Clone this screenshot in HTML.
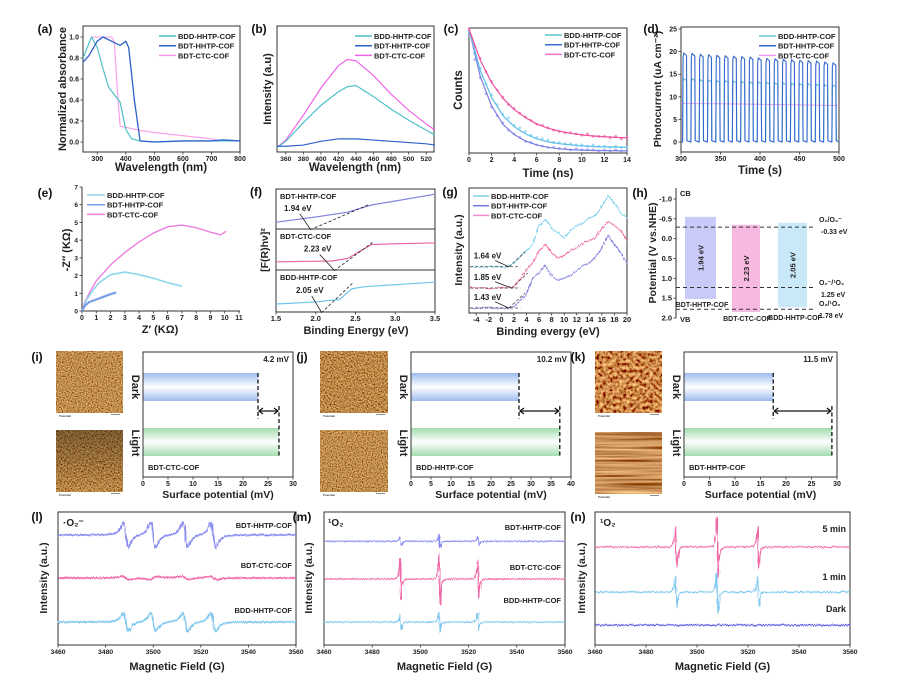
<!DOCTYPE html>
<html><head><meta charset="utf-8"><title>COF characterization figure</title>
<style>
html,body{margin:0;padding:0;background:#fff;}
svg{display:block;font-family:"Liberation Sans",Arial,sans-serif;font-weight:bold;}
</style></head>
<body>
<svg id="fig" xmlns="http://www.w3.org/2000/svg" width="911" height="684" viewBox="0 0 911 684">
<defs>
<filter id="noise" filterUnits="userSpaceOnUse" x="0" y="0" width="911" height="684">
<feTurbulence type="fractalNoise" baseFrequency="0.9 0.05" numOctaves="2" seed="3" result="t"/>
<feDisplacementMap in="SourceGraphic" in2="t" scale="3.5" xChannelSelector="R" yChannelSelector="G"/>
</filter>
<filter id="afm1" x="0" y="0" width="100%" height="100%"><feTurbulence type="fractalNoise" baseFrequency="0.8" numOctaves="2" seed="1"/><feColorMatrix type="matrix" values="1.3 0 0 0 -0.12  0.95 0 0 0 -0.2  0.4 0 0 0 -0.12  0 0 0 0 1"/></filter>
<filter id="afm2" x="0" y="0" width="100%" height="100%"><feTurbulence type="fractalNoise" baseFrequency="0.7" numOctaves="2" seed="7"/><feColorMatrix type="matrix" values="1.3 0 0 0 -0.14  0.95 0 0 0 -0.22  0.4 0 0 0 -0.13  0 0 0 0 1"/></filter>
<filter id="afm3" x="0" y="0" width="100%" height="100%"><feTurbulence type="fractalNoise" baseFrequency="0.3" numOctaves="2" seed="5"/><feColorMatrix type="matrix" values="1.6 0 0 0 -0.2  1.2 0 0 0 -0.35  0.5 0 0 0 -0.18  0 0 0 0 1"/></filter>
<filter id="afm4" x="0" y="0" width="100%" height="100%"><feTurbulence type="fractalNoise" baseFrequency="0.01 0.45" numOctaves="2" seed="9"/><feColorMatrix type="matrix" values="1.3 0 0 0 -0.05  0.95 0 0 0 -0.18  0.45 0 0 0 -0.12  0 0 0 0 1"/></filter>
<linearGradient id="gBlue" x1="0" y1="0" x2="0" y2="1"><stop offset="0" stop-color="#9dbcf0"/><stop offset="0.5" stop-color="#ffffff"/><stop offset="1" stop-color="#9dbcf0"/></linearGradient>
<linearGradient id="gGreen" x1="0" y1="0" x2="0" y2="1"><stop offset="0" stop-color="#a3dcae"/><stop offset="0.5" stop-color="#ffffff"/><stop offset="1" stop-color="#a3dcae"/></linearGradient>
<linearGradient id="gDark" x1="0" y1="0" x2="0" y2="1"><stop offset="0" stop-color="#000" stop-opacity="0.35"/><stop offset="1" stop-color="#000" stop-opacity="0"/></linearGradient>
</defs>
</svg>
<script>
// ---------- DATA ----------
const aWl_bdd=[250,280,300,320,340,360,380,400,420,450,500,600,700,800];
const aVal_bdd=[0.8,1.0,0.9,0.7,0.52,0.45,0.38,0.12,0.03,0.01,0.0,0.01,0.01,0.01];
const aWl_bdt=[250,270,300,320,350,380,400,410,430,450,500,600,700,740,800];
const aVal_bdt=[0.76,0.82,0.96,1.0,0.96,0.92,0.96,0.9,0.4,0.01,0.0,0.01,0.01,0.02,0.01];
const aWl_ctc=[280,300,350,360,370,380,400,450,500,600,700,720];
const aVal_ctc=[1.0,1.0,1.0,0.95,0.5,0.15,0.14,0.11,0.09,0.06,0.03,0.02];
const bWl=[350,360,380,400,420,430,440,460,480,500,520,530];
const bCtc=[0.02,0.08,0.28,0.5,0.68,0.73,0.72,0.6,0.45,0.32,0.21,0.16];
const bBdd=[0.02,0.07,0.22,0.36,0.47,0.51,0.52,0.43,0.33,0.24,0.16,0.12];
const bBdt=[0.03,0.03,0.04,0.07,0.09,0.09,0.09,0.08,0.07,0.06,0.05,0.04];
const cT=[0,1,2,3,4,5,6,7,8,9,10,11,12,13,14];
const cFitCtc=[1.0,0.745,0.561,0.433,0.34,0.274,0.222,0.187,0.163,0.145,0.132,0.123,0.117,0.112,0.108];
const cFitBdd=[1.0,0.66,0.44,0.29,0.2,0.14,0.1,0.075,0.06,0.05,0.042,0.037,0.034,0.032,0.031];
const cFitBdt=[1.0,0.61,0.37,0.22,0.135,0.082,0.05,0.03,0.018,0.011,0.007,0.004,0.003,0.002,0.001];
const cTs=[0,0.5,1,1.5,2,2.5,3,3.5,4,4.5,5,5.5,6,6.5,7,7.5,8,8.5,9,9.5,10,10.5,11,11.5,12,12.5,13,13.5,14];
const cPtCtc=[1.0,0.86,0.76,0.65,0.57,0.5,0.44,0.38,0.35,0.31,0.28,0.25,0.22,0.21,0.19,0.17,0.16,0.15,0.15,0.14,0.13,0.14,0.12,0.12,0.12,0.11,0.12,0.1,0.11];
const cPtBdd=[0.98,0.8,0.68,0.55,0.46,0.38,0.3,0.27,0.21,0.19,0.16,0.13,0.11,0.1,0.09,0.07,0.07,0.06,0.06,0.05,0.05,0.04,0.05,0.04,0.04,0.03,0.04,0.03,0.03];
const cPtBdt=[0.95,0.75,0.6,0.47,0.36,0.29,0.23,0.17,0.14,0.11,0.08,0.07,0.05,0.04,0.03,0.03,0.02,0.02,0.01,0.02,0.01,0.01,0.01,0.0,0.01,0.0,0.01,0.0,0.0];
const dStart=[302,312.5,323,333.5,344,354.5,365,375.5,386,396.5,407,417.5,428,438.5,449,459.5,470,480.5,491];
const dBdt=[19.7,19.6,19.4,19.3,19.2,19.1,19.0,18.9,18.8,18.6,18.5,18.4,18.3,18.2,18.1,18.0,17.9,17.7,17.5];
const dBdd=[14.0,14.0,13.8,13.7,13.6,13.6,13.5,13.4,13.3,13.3,13.2,13.1,13.1,13.0,12.9,12.9,12.8,12.7,12.6];
const dCtcT=[300,350,400,450,500];
const dCtcV=[8.5,8.45,8.35,8.2,8.1];
const eCtcX=[0,0.2,0.5,1,2,3,4,5,6,7,8,9,9.7,10.1];
const eCtcY=[0,0.5,1.0,1.7,2.6,3.3,3.9,4.4,4.75,4.85,4.7,4.45,4.3,4.5];
const eBddX=[0,0.3,0.7,1.2,2,3,4,5,6,7];
const eBddY=[0,0.6,1.1,1.6,2.05,2.2,2.05,1.85,1.6,1.4];
const eBdtX=[0,0.2,0.5,1,1.5,2,2.4];
const eBdtY=[0,0.3,0.5,0.65,0.8,0.95,1.05];
const fX_bdt=[1.5,2.0,2.4,2.7,3.0,3.5];
const fY_bdt=[0.17,0.3,0.42,0.6,0.7,0.87];
const fX_ctc=[1.5,2.2,2.4,2.55,2.7,3.0,3.5];
const fY_ctc=[0.2,0.22,0.28,0.45,0.62,0.64,0.66];
const fX_bdd=[1.5,2.0,2.3,2.45,2.6,3.0,3.5];
const fY_bdd=[0.19,0.24,0.3,0.55,0.6,0.65,0.71];
const fGaps=["1.94 eV","2.23 eV","2.05 eV"];
const gX=[-5,1,2,3,4,5,6,7,8,9,10,11,12,13,14,15,16,17,18,19,20];
const gBdd=[0.37,0.37,0.4,0.45,0.5,0.55,0.7,0.75,0.68,0.64,0.6,0.66,0.7,0.72,0.76,0.78,0.85,0.94,0.88,0.8,0.76];
const gCtc=[0.2,0.2,0.21,0.27,0.35,0.4,0.5,0.55,0.48,0.44,0.46,0.5,0.52,0.56,0.58,0.6,0.68,0.73,0.7,0.66,0.58];
const gBdt=[0.04,0.04,0.05,0.1,0.15,0.28,0.32,0.38,0.3,0.26,0.28,0.3,0.34,0.38,0.4,0.45,0.52,0.62,0.55,0.48,0.4];
const gGaps=["1.64 eV","1.85 eV","1.43 eV"];
const hNames=["BDT-HHTP-COF","BDT-CTC-COF","BDD-HHTP-COF"];
const hCB=[-0.55,-0.35,-0.4];
const hVB=[1.52,1.85,1.73];
const hGapLabels=["1.94 eV","2.23 eV","2.05 eV"];
const hRefs=[-0.29,1.23,1.78];
const spDark=[23.0,27.0,17.5];
const spLight=[27.2,37.2,29.0];
const spMax=[30,40,30];
const spDelta=["4.2 mV","10.2 mV","11.5 mV"];
const spNames=["BDT-CTC-COF","BDD-HHTP-COF","BDT-HHTP-COF"];
const lCenters=[3488.5,3500,3513.5,3525.3];
const lBase=[8.27,5.04,1.73];
const lAmp=[0.95,0.12,0.7];
const mCenters=[3491.8,3508,3524];
const mBase=[7.8,4.96,1.73];
const mAmp=[[0.35,0.5,0.35],[1.6,2.0,1.5],[0.6,0.8,0.7]];
const nBase=[7.37,3.98,1.5];
const nAmp=[[1.6,2.4,1.7],[1.2,1.6,1.2],[0,0,0]];

// ---------- HELPERS ----------
const NS='http://www.w3.org/2000/svg';
const svg=document.getElementById('fig');
function add(tag,attrs,parent){const e=document.createElementNS(NS,tag);for(const k in attrs)e.setAttribute(k,attrs[k]);(parent||svg).appendChild(e);return e;}
function nm(e,name){


return e;}
function sc(d0,d1,r0,r1){return v=>r0+(v-d0)/(d1-d0)*(r1-r0);}
function txt(x,y,s,o,name){o=o||{};const t=add('text',{x:x,y:y,'font-size':o.fs||7.5,'text-anchor':o.anchor||'middle',fill:o.fill||'#222','font-weight':'bold'},o.parent);
if(o.rot!==undefined)t.setAttribute('transform','rotate('+o.rot+' '+x+' '+y+')');
t.textContent=s;nm(t,name||'label');return t;}
function pth(xs,ys,sx,sy){let d='';for(let i=0;i<xs.length;i++)d+=(i?'L':'M')+sx(xs[i]).toFixed(2)+' '+sy(ys[i]).toFixed(2);return d;}
function line(xs,ys,sx,sy,col,w,name,parent){const p=add('path',{d:pth(xs,ys,sx,sy),fill:'none',stroke:col,'stroke-width':w||1.2,'stroke-linejoin':'round'},parent);nm(p,name);return p;}
function box(x0,y0,x1,y1,name){const r=add('rect',{x:x0,y:y0,width:x1-x0,height:y1-y0,fill:'none',stroke:'#333','stroke-width':1});nm(r,name);return r;}
function seg(x1,y1,x2,y2,col,w,dash,name){const l=add('line',{x1:x1,y1:y1,x2:x2,y2:y2,stroke:col||'#333','stroke-width':w||1});if(dash)l.setAttribute('stroke-dasharray',dash);nm(l,name||'line');return l;}
function xticks(sx,y,vals,fmt,name,fs){vals.forEach(v=>{seg(sx(v),y,sx(v),y+2.5,'#333',0.8,null,name+'-tick');txt(sx(v),y+9,fmt(v),{fs:fs||7},name+'-label');});}
function yticks(sy,x,vals,fmt,name,fs){vals.forEach(v=>{seg(x-2.5,sy(v),x,sy(v),'#333',0.8,null,name+'-tick');txt(x-4,sy(v)+2.5,fmt(v),{fs:fs||7,anchor:'end'},name+'-label');});}
function rng(a,b,s){const r=[];for(let v=a;v<=b+1e-9;v+=s)r.push(Math.round(v*1000)/1000);return r;}
function legend(x,y,items,name,lw){items.forEach((it,i)=>{seg(x,y+i*9.7,x+(lw||17),y+i*9.7,it[1],1.5,null,name+'-swatch');txt(x+(lw||17)+2,y+i*9.7+3,it[0],{fs:7.5,anchor:'start'},name+'-entry');});}
function plabel(x,y,s){txt(x,y,s,{fs:12,anchor:'middle',fill:'#111'},'panel-label');}

const BDD='BDD-HHTP-COF',BDT='BDT-HHTP-COF',CTC='BDT-CTC-COF';

// ---------- (a) ----------
{const sx=sc(250,800,83,240),sy=sc(0,1,142,37);
box(83,26,240,152,'panel-a-plot-area');
line(aWl_ctc,aVal_ctc,sx,sy,'#f79bea',1.1,'series-bdt-ctc-absorbance');
line(aWl_bdd,aVal_bdd,sx,sy,'#4dc1c6',1.2,'series-bdd-hhtp-absorbance');
line(aWl_bdt,aVal_bdt,sx,sy,'#2e62c8',1.3,'series-bdt-hhtp-absorbance');
xticks(sx,152,rng(300,800,100),v=>v,'a-x',7);
yticks(sy,83,rng(0,1,0.2),v=>v.toFixed(1),'a-y',7);
txt(161,171,'Wavelength (nm)',{fs:11.5},'a-x-axis-title');
txt(66,89,'Normalized absorbance',{fs:11,rot:-90},'a-y-axis-title');
legend(159,36,[[BDD,'#4dc1c6'],[BDT,'#2e62c8'],[CTC,'#f79bea']],'a-legend');
plabel(45,33,'(a)');}

// ---------- (b) ----------
{const sx=sc(350,530,277,435),sy=sc(0,1,150,26);
box(277,26,434,152,'panel-b-plot-area');
line(bWl,bCtc,sx,sy,'#f064e8',1.2,'series-bdt-ctc-pl');
line(bWl,bBdd,sx,sy,'#4dc1c6',1.2,'series-bdd-hhtp-pl');
line(bWl,bBdt,sx,sy,'#2e62c8',1.2,'series-bdt-hhtp-pl');
xticks(sx,152,rng(360,520,20),v=>v,'b-x',6.8);
txt(355,171,'Wavelength (nm)',{fs:11.5},'b-x-axis-title');
txt(271,89,'Intensity (a.u)',{fs:11,rot:-90},'b-y-axis-title');
legend(355,36,[[BDD,'#4dc1c6'],[BDT,'#2e62c8'],[CTC,'#f064e8']],'b-legend');
plabel(259,33,'(b)');}

// ---------- (c) ----------
{const sx=sc(0,14,469,627),sy=sc(0,1,151,29);
box(469,28,627,153,'panel-c-plot-area');
const pts=[[cPtBdt,'#a9a9f0','bdt-hhtp'],[cPtBdd,'#8fd3f2','bdd-hhtp'],[cPtCtc,'#f27ab8','bdt-ctc']];
pts.forEach(p=>{p[0].forEach((v,i)=>{const c=add('circle',{cx:sx(cTs[i]),cy:sy(v),r:1.4,fill:p[1],opacity:0.85});

});});
line(cT,cFitBdt,sx,sy,'#7b7fe0',1.2,'fit-bdt-hhtp');
line(cT,cFitBdd,sx,sy,'#5dbfe8',1.2,'fit-bdd-hhtp');
line(cT,cFitCtc,sx,sy,'#ee4f9e',1.2,'fit-bdt-ctc');
xticks(sx,153,rng(0,14,2),v=>v,'c-x',7);
txt(548,177,'Time (ns)',{fs:11.5},'c-x-axis-title');
txt(462,90,'Counts',{fs:11.5,rot:-90},'c-y-axis-title');
legend(545,35,[[BDD,'#5dc7c9'],[BDT,'#3a6fd0'],[CTC,'#ee6fc8']],'c-legend');
plabel(451,33,'(c)');}

// ---------- (d) ----------
{const sx=sc(300,500,681,839),sy=sc(0,25,142,29);
box(681,27,839,152,'panel-d-plot-area');
function cyc(peaks,col,name){let xs=[300],ys=[0];dStart.forEach((t,i)=>{xs.push(t,t+0.6,t+1.5,t+5,t+5.5,t+10);ys.push(0,peaks[i]*0.95,peaks[i],peaks[i]*0.97,0.3,0);});xs.push(500);ys.push(0);
const keep=xs.map((x,i)=>[Math.min(x,500),ys[i]]);line(keep.map(k=>k[0]),keep.map(k=>k[1]),sx,sy,col,1.1,name);}
line(dCtcT,dCtcV,sx,sy,'#ec9be8',0.9,'series-bdt-ctc-photocurrent');
cyc(dBdd,'#69c4d6','series-bdd-hhtp-photocurrent');
cyc(dBdt,'#3467cf','series-bdt-hhtp-photocurrent');
xticks(sx,152,rng(300,500,50),v=>v,'d-x',7);
yticks(sy,681,rng(0,25,5),v=>v,'d-y',7);
txt(760,174,'Time (s)',{fs:11.5},'d-x-axis-title');
txt(661,89,'Photocurrent (uA cm⁻²)',{fs:10.5,rot:-90},'d-y-axis-title');
legend(759,36,[[BDD,'#69c4d6'],[BDT,'#3467cf'],[CTC,'#ec9be8']],'d-legend');
plabel(651,33,'(d)');}

// ---------- (e) ----------
{const sx=sc(0,11,82,239),sy=sc(0,7,311,187);
seg(82,187,82,311,'#333',1,null,'e-y-axis');seg(82,311,240,311,'#333',1,null,'e-x-axis');
line(eCtcX,eCtcY,sx,sy,'#ec7ee0',1.4,'series-bdt-ctc-nyquist');
line(eBddX,eBddY,sx,sy,'#8fd6ec',1.6,'series-bdd-hhtp-nyquist');
line(eBdtX,eBdtY,sx,sy,'#7a9ee8',2.2,'series-bdt-hhtp-nyquist');
xticks(sx,311,rng(0,11,1),v=>v,'e-x',7);
yticks(sy,82,rng(0,7,1),v=>v,'e-y',6.5);
txt(160,333,"Z′ (KΩ)",{fs:11},'e-x-axis-title');
txt(70,250,"-Z′′ (KΩ)",{fs:11,rot:-90},'e-y-axis-title');
legend(87,195,[[BDD,'#8fd6ec'],[BDT,'#7a9ee8'],[CTC,'#ec7ee0']],'e-legend',18);
plabel(45,197,'(e)');}

// ---------- (f) ----------
{const sx=sc(1.5,3.5,276,435);
const subs=[[189,229,fX_bdt,fY_bdt,'#8484e0',BDT,[1.93,2.68],[1.8,1.94]],[229,270,fX_ctc,fY_ctc,'#e96aa4',CTC,[2.23,2.72],[2.05,2.23]],[270,312,fX_bdd,fY_bdd,'#6ec4ec',BDD,[2.07,2.46],[1.95,2.07]]];
box(276,189,435,312,'panel-f-plot-area');
seg(276,229,435,229,'#333',1,null,'f-divider');seg(276,270,435,270,'#333',1,null,'f-divider');
subs.forEach((s,i)=>{const sy=sc(0,1,s[1],s[0]);
line(s[2],s[3],sx,sy,s[4],1.2,'tauc-'+s[5].toLowerCase());
seg(sx(s[6][0]),sy(-0.02),sx(s[6][1]),sy(i==0?0.62:0.68),'#222',0.8,'3,2','f-tangent');
seg(sx(s[7][0]),sy(0.38),sx(s[6][0]),sy(0.0),'#222',0.8,null,'f-pointer');
txt(280,s[0]+10,s[5],{fs:7.5,anchor:'start'},'f-sample-label');
txt(sx(s[7][0])-2,sy(0.45),fGaps[i],{fs:8,anchor:'middle'},'f-gap-label');});
xticks(sx,312,rng(1.5,3.5,0.5),v=>v.toFixed(1),'f-x',7.5);
txt(356,334,'Binding Energy (eV)',{fs:11},'f-x-axis-title');
txt(268,250,'[F(R)hν]²',{fs:10.5,rot:-90},'f-y-axis-title');
plabel(256,196,'(f)');}

// ---------- (g) ----------
{const sx=sc(-5,20,470,627),sy=sc(0,1,313,188);
box(469,188,627,313,'panel-g-plot-area');
const g=add('g',{filter:'url(#noise)'});nm(g,'g-spectra');
line(gX,gBdd,sx,sy,'#7fd0ec',1.1,'vb-bdd-hhtp',g);
line(gX,gCtc,sx,sy,'#ee6aa6',1.1,'vb-bdt-ctc',g);
line(gX,gBdt,sx,sy,'#8484e0',1.1,'vb-bdt-hhtp',g);
[[gBdd[0],1.2],[gCtc[0],1.6],[gBdt[0],1.2]].forEach((b,i)=>{
seg(sx(-5),sy(b[0]),sx(3),sy(b[0]),'#444',0.8,'3,2','g-baseline');
seg(sx(b[1]),sy(b[0]),sx(b[1]+2.6),sy(b[0]+0.12),'#444',0.8,'3,2','g-tangent');
seg(sx(-1),sy(b[0]+0.05),sx(b[1]),sy(b[0]),'#222',0.8,null,'g-pointer');
txt(sx(-2.2),sy(b[0]+0.065),gGaps[i],{fs:8},'g-gap-label');});
xticks(sx,313,rng(-4,20,2),v=>v,'g-x',7.5);
txt(548,335,'Binding evergy (eV)',{fs:11},'g-x-axis-title');
txt(462,250,'Intensity (a.u.)',{fs:10.5,rot:-90},'g-y-axis-title');
legend(473,196,[[BDD,'#7fd0ec'],[BDT,'#6a78d8'],[CTC,'#f08ad0']],'g-legend',16);
plabel(450,196,'(g)');}

// ---------- (h) ----------
{const sy=sc(-1,2,199,318);
seg(676,188,676,318,'#333',1,null,'h-y-axis');
yticks(sy,676,rng(-1,2,0.5),v=>v.toFixed(1),'h-y',7.5);
const bx=[[685,716,'#cacaf8'],[732,760,'#f8b9e0'],[778,807,'#c9e8f8']];
hNames.forEach((n,i)=>{const r=add('rect',{x:bx[i][0],y:sy(hCB[i]),width:bx[i][1]-bx[i][0],height:sy(hVB[i])-sy(hCB[i]),fill:bx[i][2]});nm(r,'band-bar-'+n.toLowerCase());
const cx=(bx[i][0]+bx[i][1])/2;txt(cx+3,(sy(hCB[i])+sy(hVB[i]))/2,hGapLabels[i],{fs:7.5,rot:-90},'band-gap-label');});
hRefs.forEach(v=>seg(676,sy(v),813,sy(v),'#333',1,'4,3','h-reference-level'));
txt(702,307,hNames[0],{fs:7},'h-bar-name');txt(747,321,hNames[1],{fs:7},'h-bar-name');txt(795,320,hNames[2],{fs:7},'h-bar-name');
txt(819,222,'O₂/O₂⁻',{fs:7,anchor:'start'},'h-ref-label');txt(821,234,'-0.33 eV',{fs:7,anchor:'start'},'h-ref-label');
txt(819,285,'O₂⁻/¹O₂',{fs:7,anchor:'start'},'h-ref-label');txt(821,297,'1.25 eV',{fs:7,anchor:'start'},'h-ref-label');
txt(819,306,'O₂/¹O₂',{fs:7,anchor:'start'},'h-ref-label');txt(819,318,'1.78 eV',{fs:7,anchor:'start'},'h-ref-label');
txt(680,196,'CB',{fs:7.5,anchor:'start'},'h-cb-label');txt(680,322,'VB',{fs:7.5,anchor:'start'},'h-vb-label');
txt(656,253,'Potential (V vs.NHE)',{fs:10.5,rot:-90},'h-y-axis-title');
plabel(640,197,'(h)');}

// ---------- (i)(j)(k) ----------
const spPanels=[{lab:'(i)',lx:37,img:[56,123],bx:[143,293],tl:132,imgs:['afm1','afm2'],im2y:[430,492]},
{lab:'(j)',lx:302,img:[320,388],bx:[411,571],tl:400,imgs:['afm2','afm1'],im2y:[430,492]},
{lab:'(k)',lx:578,img:[595,662],bx:[684,837],tl:673,imgs:['afm3','afm4'],im2y:[432,494]}];
spPanels.forEach((p,k)=>{
plabel(p.lx,361,p.lab);
[[351,413,p.imgs[0],'afm-dark-image'],[p.im2y[0],p.im2y[1],p.imgs[1],'afm-light-image']].forEach(im=>{
const r=add('rect',{x:p.img[0],y:im[0],width:p.img[1]-p.img[0],height:im[1]-im[0],filter:'url(#'+im[2]+')'});nm(r,im[3]);
if(k==0&&im[2]=='afm2'){const o=add('rect',{x:p.img[0],y:im[0],width:p.img[1]-p.img[0],height:im[1]-im[0],fill:'url(#gDark)'});nm(o,'afm-shade');}
txt(p.img[0]+3,im[1]+4,'Potential',{fs:2.8,anchor:'start',fill:'#444'},'afm-caption');
seg(p.img[1]-12,im[1]+1.5,p.img[1]-3,im[1]+1.5,'#444',0.6,null,'afm-scale-bar');});
const sx=sc(0,spMax[k],p.bx[0],p.bx[1]);
box(p.bx[0],352,p.bx[1],477,'sp-plot-area');
const d=add('rect',{x:p.bx[0]+0.5,y:373,width:sx(spDark[k])-p.bx[0]-0.5,height:28,fill:'url(#gBlue)'});nm(d,'dark-potential-bar');
const l=add('rect',{x:p.bx[0]+0.5,y:428,width:sx(spLight[k])-p.bx[0]-0.5,height:28,fill:'url(#gGreen)'});nm(l,'light-potential-bar');
seg(sx(spDark[k]),373,sx(spDark[k]),419,'#111',1.3,'4,2.5','dark-dashed-marker');
seg(sx(spLight[k]),406,sx(spLight[k]),456,'#111',1.3,'4,2.5','light-dashed-marker');
seg(sx(spDark[k])+1,411,sx(spLight[k])-1,411,'#111',1.2,null,'delta-arrow');
const a1=add('path',{d:`M${sx(spDark[k])+5} 408 L${sx(spDark[k])+1} 411 L${sx(spDark[k])+5} 414`,fill:'none',stroke:'#111','stroke-width':1.2});nm(a1,'arrow-head');
const a2=add('path',{d:`M${sx(spLight[k])-5} 408 L${sx(spLight[k])-1} 411 L${sx(spLight[k])-5} 414`,fill:'none',stroke:'#111','stroke-width':1.2});nm(a2,'arrow-head');
txt(p.bx[1]-4,362,spDelta[k],{fs:8,anchor:'end'},'delta-potential-label');
txt(p.bx[0]+5,470,spNames[k],{fs:7.5,anchor:'start'},'sp-sample-label');
xticks(sx,477,rng(0,spMax[k],5),v=>v,'sp-x',7);
txt((p.bx[0]+p.bx[1])/2,498,'Surface potential (mV)',{fs:10.5},'sp-x-axis-title');
txt(p.tl,387,'Dark',{fs:11,rot:90},'dark-label');
txt(p.tl,443,'Light',{fs:11,rot:90},'light-label');});

// ---------- (l)(m)(n) ----------
function epr(centers,amps,w,base){const xs=[],ys=[];for(let x=3460;x<=3560;x+=0.2){let y=base;centers.forEach((c,i)=>{const u=(x-c)/w;y+=amps[i]*(-u/Math.pow(1+u*u,2))/0.325;});xs.push(x);ys.push(y);}return [xs,ys];}
const eprPanels=[{lab:'(l)',lx:37,bx:[58,296],yt:47,sub:'·O₂⁻',subx:63},{lab:'(m)',lx:302,bx:[324,565],yt:312,sub:'¹O₂',subx:328},{lab:'(n)',lx:578,bx:[595,850],yt:585,sub:'¹O₂',subx:600}];
eprPanels.forEach((p,k)=>{const sx=sc(3460,3560,p.bx[0],p.bx[1]),sy=sc(0,10,645,512);
box(p.bx[0],512,p.bx[1],645,'epr-plot-area');
const g=add('g',{filter:'url(#noise)'});nm(g,'epr-traces');
let traces;
if(k==0)traces=[[lCenters,[lAmp[0],lAmp[0],lAmp[0],lAmp[0]],1.8,lBase[0],'#8a8ef0',BDT],[lCenters,[lAmp[1],-lAmp[1],lAmp[1],lAmp[1]],2.5,lBase[1],'#f06aa8',CTC],[lCenters,[lAmp[2],lAmp[2],lAmp[2],lAmp[2]],1.8,lBase[2],'#7fc8f0',BDD]];
else if(k==1)traces=[[mCenters,mAmp[0],0.45,mBase[0],'#8a8ef0',BDT],[mCenters,mAmp[1],0.45,mBase[1],'#f06aa8',CTC],[mCenters,mAmp[2],0.45,mBase[2],'#7fc8f0',BDD]];
else traces=[[mCenters,nAmp[0],0.45,nBase[0],'#f06aa8','5 min'],[mCenters,nAmp[1],0.45,nBase[1],'#7fc8f0','1 min'],[mCenters,nAmp[2],0.45,nBase[2],'#5a5ae8','Dark']];
traces.forEach(t=>{const r=epr(t[0],t[1],t[2],t[3]);line(r[0],r[1],sx,sy,t[4],k==0?1.8:1.3,'epr-'+t[5].toLowerCase().replace(' ','-'),g);});
const labY=k==0?[528,568,613]:(k==1?[530,570,603]:[532,580,612]);
traces.forEach((t,i)=>txt(p.bx[1]-4,labY[i],t[5],{fs:k==2?9:7.5,anchor:'end'},'epr-trace-label'));
xticks(sx,645,rng(3460,3560,20),v=>v,'epr-x',6.8);
txt((p.bx[0]+p.bx[1])/2,670,'Magnetic Field (G)',{fs:11},'epr-x-axis-title');
txt(p.yt,578,'Intensity (a.u.)',{fs:10.5,rot:-90},'epr-y-axis-title');
txt(p.subx,526,p.sub,{fs:10,anchor:'start'},'species-label');
plabel(p.lx,521,p.lab);});
</script>
</body></html>
